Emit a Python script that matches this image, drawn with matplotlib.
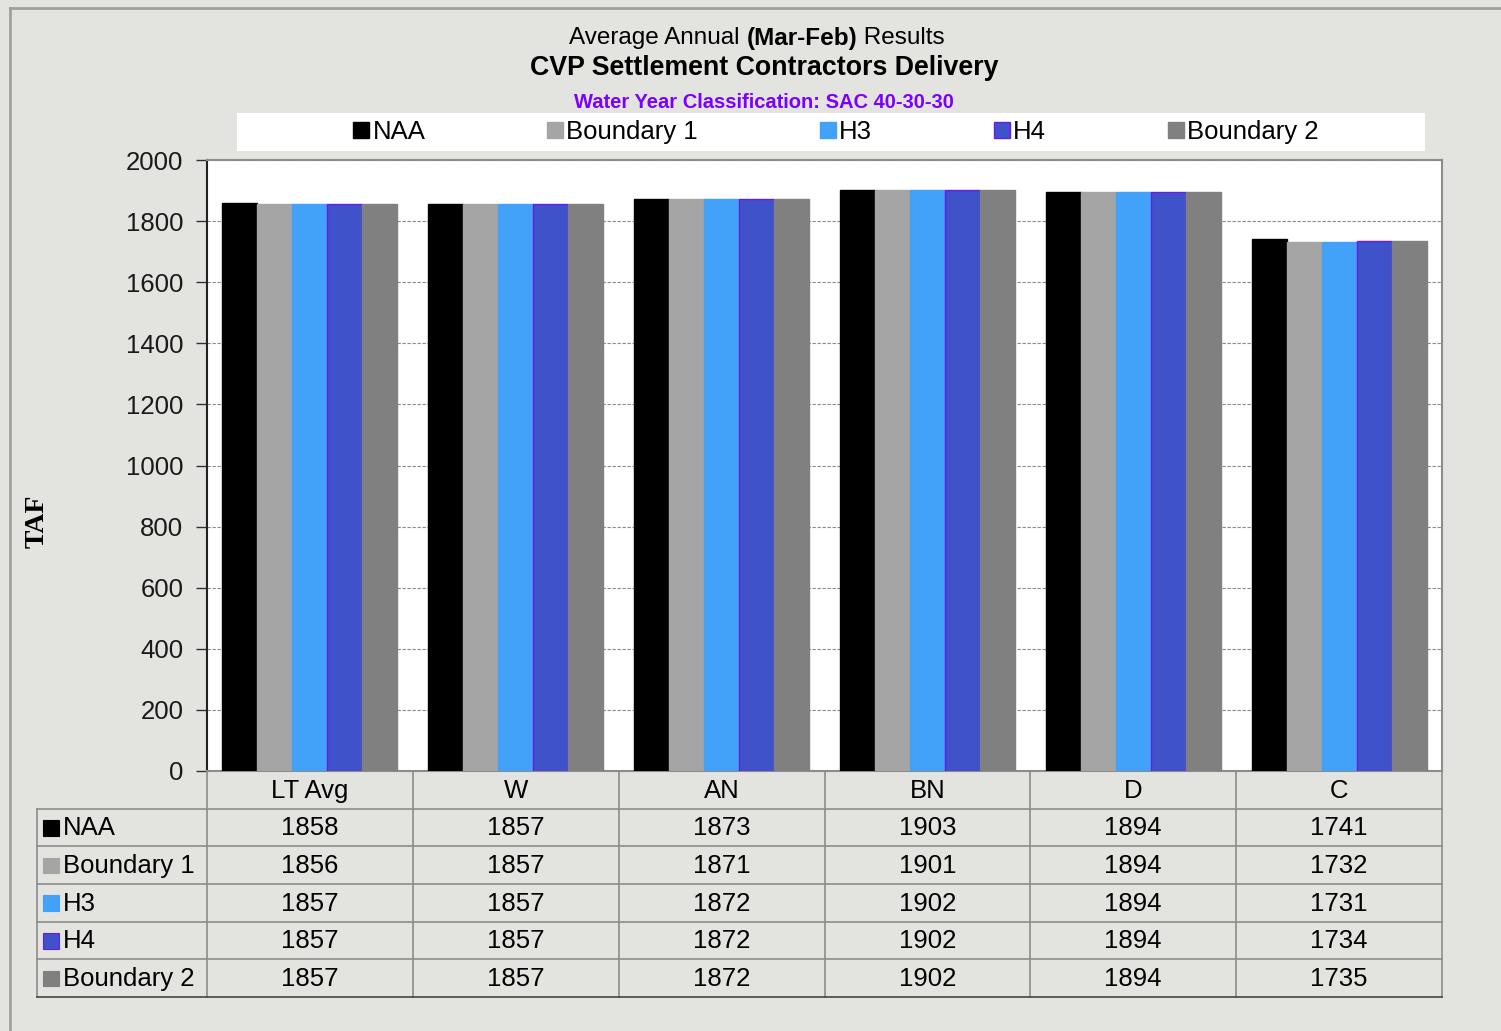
import matplotlib
matplotlib.use("Agg")
import matplotlib.pyplot as plt
from matplotlib.patches import Rectangle
from matplotlib.lines import Line2D
import numpy as np

categories = ["LT Avg", "W", "AN", "BN", "D", "C"]
series_names = ["NAA", "Boundary 1", "H3", "H4", "Boundary 2"]
naa = [1858, 1857, 1873, 1903, 1894, 1741]
boundary1 = [1856, 1857, 1871, 1901, 1894, 1732]
h3 = [1857, 1857, 1872, 1902, 1894, 1731]
h4 = [1857, 1857, 1872, 1902, 1894, 1734]
boundary2 = [1857, 1857, 1872, 1902, 1894, 1735]
series_values = [naa, boundary1, h3, h4, boundary2]
yticks = [0, 200, 400, 600, 800, 1000, 1200, 1400, 1600, 1800, 2000]

face_colors = ["#000000", "#a5a5a5", "#42a1f8", "#3f52c9", "#808080"]
edge_colors = ["#000000", "#a5a5a5", "#42a1f8", "#6a1be8", "#808080"]

W, H = 1501, 1031
BG = "#e3e3df"
FONT = "Liberation Sans"
FS = 18.5
plt.rcParams["font.family"] = [FONT, "DejaVu Sans"]

fig = plt.figure(figsize=(W / 100, H / 100), dpi=100, facecolor=BG)


def fx(px):
    return px / W


def fy(py):
    return 1 - py / H


# outer border
fig.add_artist(Line2D([fx(10), fx(10)], [fy(8), fy(1031)], color="#a0a0a0", lw=2))
fig.add_artist(Line2D([fx(10), fx(1501)], [fy(8), fy(8)], color="#a0a0a0", lw=2))

# main axes
L, R, T, B = 207, 1442, 160, 771
ax = fig.add_axes([fx(L), fy(B), fx(R) - fx(L), fy(T) - fy(B)])
ax.set_facecolor("white")
n = len(series_names)
bw = 0.17
x = np.arange(len(categories)) + 0.5
for i, (name, vals) in enumerate(zip(series_names, series_values)):
    ax.bar(x + (i - (n - 1) / 2) * bw, vals, width=bw, color=face_colors[i],
           edgecolor=edge_colors[i], linewidth=1, label=name, zorder=3)
ax.set_xlim(0, len(categories))
ax.set_ylim(0, 2000)
ax.set_yticks(yticks)
ax.set_yticklabels([str(v) for v in yticks], fontsize=FS, color="#1a1a1a")
ax.set_xticks([])
ax.tick_params(axis="y", length=8, width=1, color="#333333", pad=9)
ax.yaxis.grid(True, linestyle=(0, (3, 1.5)), color="#8a8a8a", linewidth=0.8, zorder=0)
ax.set_axisbelow(True)
ax.spines["left"].set_color("#222222")
ax.spines["left"].set_linewidth(1.5)
for s in ["top", "right", "bottom"]:
    ax.spines[s].set_color("#8c8c8c")
    ax.spines[s].set_linewidth(1.5)

# Y label
fig.text(fx(37), fy(521), "TAF", rotation=90, ha="center", va="center",
         fontsize=20, fontweight="bold", family="Liberation Serif")

# Title line 1 with bold middle part, centred
renderer = fig.canvas.get_renderer()
parts = [("Average Annual ", "normal"), ("(Mar-Feb)", "bold"), (" Results", "normal")]
objs = []
for txt, wt in parts:
    objs.append(fig.text(0, fy(38), txt, ha="left", va="center", fontsize=17.5, fontweight=wt))
widths = [o.get_window_extent(renderer).width for o in objs]
start = 757 - sum(widths) / 2
for o, w in zip(objs, widths):
    o.set_x(fx(start))
    start += w

fig.text(fx(764), fy(68), "CVP Settlement Contractors Delivery", ha="center", va="center",
         fontsize=19.3, fontweight="bold")
fig.text(fx(764), fy(102), "Water Year Classification: SAC 40-30-30", ha="center", va="center",
         fontsize=14.5, fontweight="bold", color="#7a00ff")

# Legend box
fig.add_artist(Rectangle((fx(237), fy(151)), fx(1425) - fx(237), fy(113) - fy(151),
                         transform=fig.transFigure, facecolor="white", edgecolor="none"))
handles, labels = ax.get_legend_handles_labels()
leg = fig.legend(handles, labels, loc="center", bbox_to_anchor=(fx(836), fy(132)), ncol=5,
                 frameon=False, fontsize=FS, handlelength=0.62, handleheight=0.62,
                 handletextpad=0.12, columnspacing=4.75, borderpad=0, borderaxespad=0)

# Table axes
TL, TB = 37, 997
tab = fig.add_axes([fx(TL), fy(TB), fx(R) - fx(TL), fy(B) - fy(TB)])
tab.set_facecolor("none")
for s in tab.spines.values():
    s.set_visible(False)
tab.set_xticks([])
tab.set_yticks([])
colw = (R - L) / len(categories)
xl = -(L - TL) / colw
tab.set_xlim(xl, len(categories))
tab.set_ylim(len(series_names) + 1, 0)
lc = "#8c8c8c"
for j in range(len(categories) + 1):
    tab.plot([j, j], [0, len(series_names) + 1], color=lc, lw=1.2, clip_on=False)
tab.plot([xl, xl], [1, len(series_names) + 1], color=lc, lw=1.2, clip_on=False)
for r in range(1, len(series_names) + 2):
    c = "#444444" if r == len(series_names) + 1 else lc
    tab.plot([xl, len(categories)], [r, r], color=c, lw=1.2, clip_on=False)
for j, cat in enumerate(categories):
    tab.text(j + 0.5, 0.52, cat, ha="center", va="center", fontsize=FS)
for i, (name, vals) in enumerate(zip(series_names, series_values)):
    tab.add_patch(Rectangle((xl + 0.03, i + 1.3), 0.075, 0.42, facecolor=face_colors[i],
                            edgecolor=edge_colors[i], lw=0.8))
    tab.text(xl + 0.127, i + 1.52, name, ha="left", va="center", fontsize=FS)
    for j, v in enumerate(vals):
        tab.text(j + 0.5, i + 1.52, str(v), ha="center", va="center", fontsize=FS)

fig.savefig("out.png", dpi=100, facecolor=BG)
